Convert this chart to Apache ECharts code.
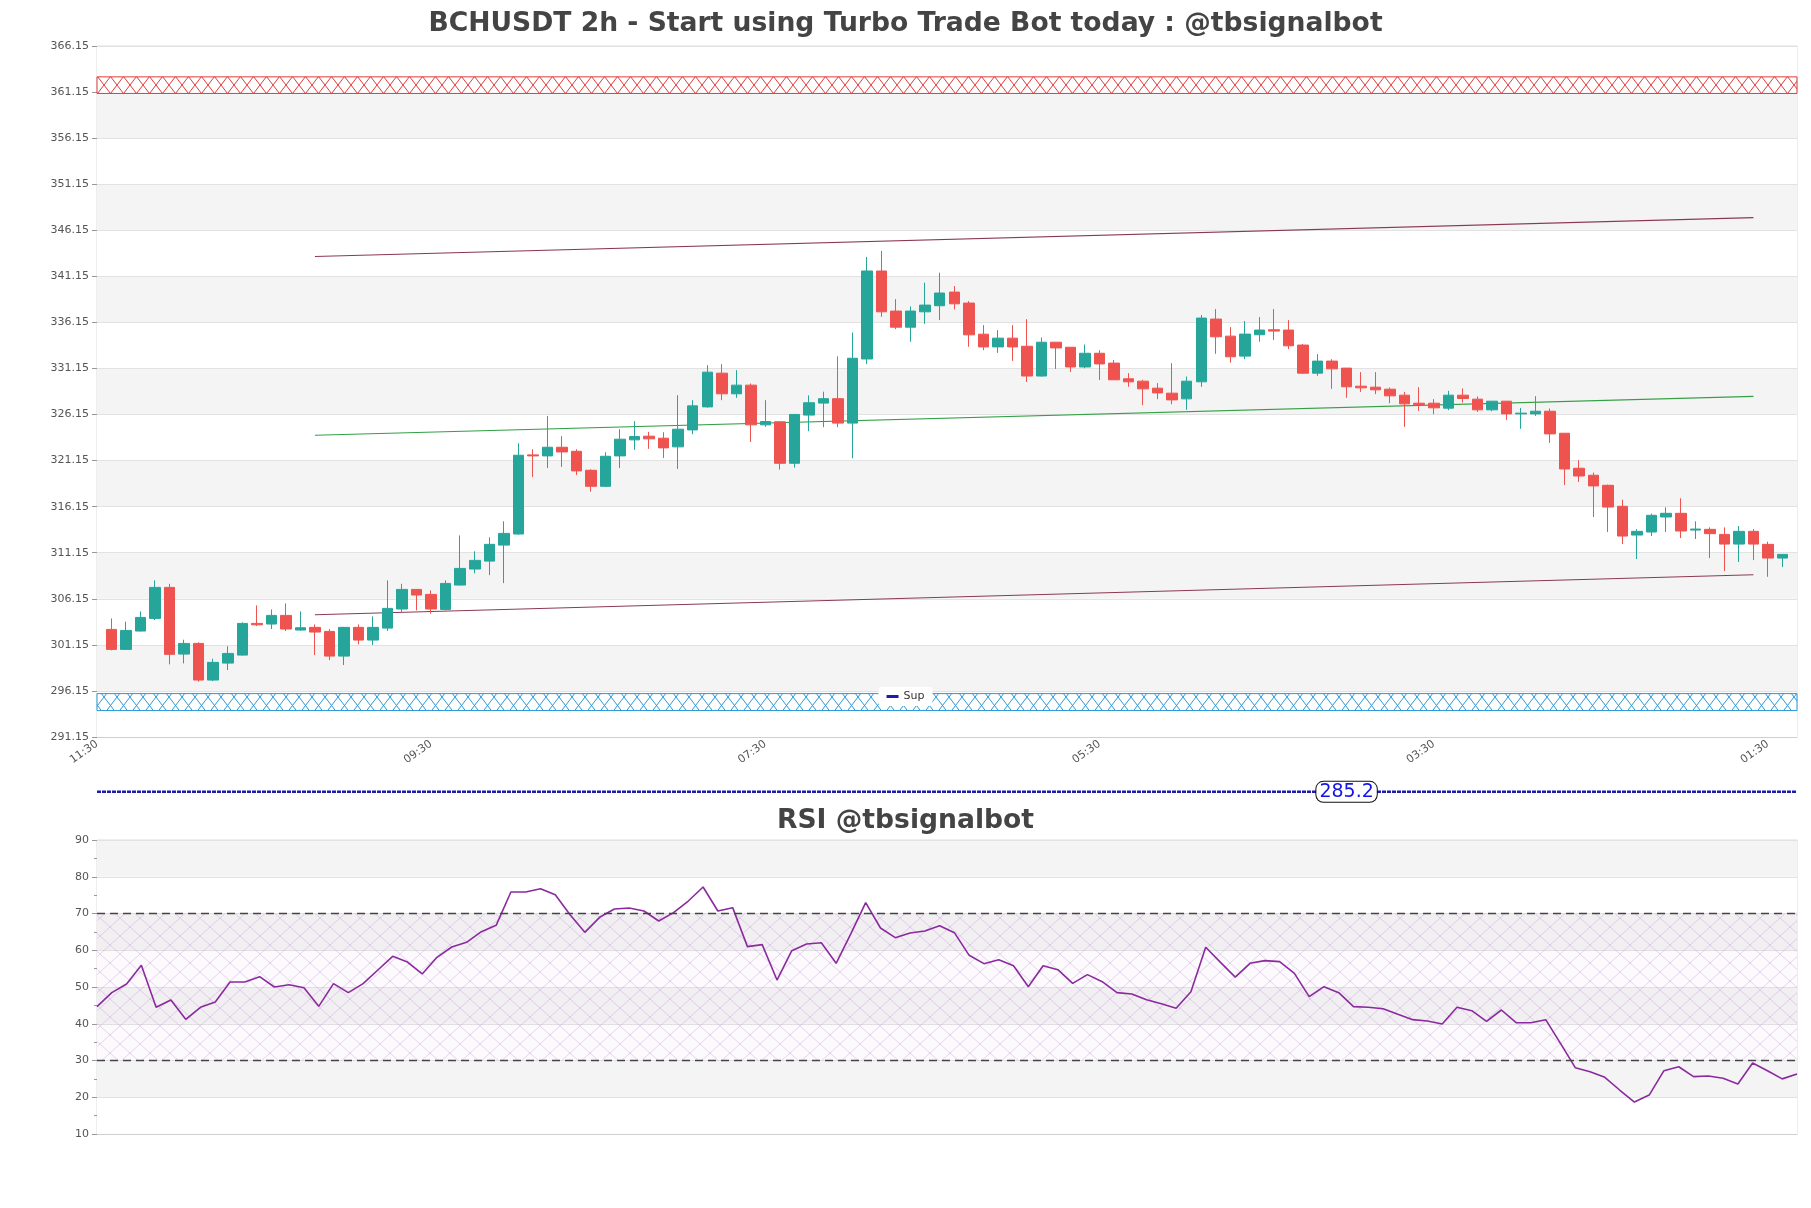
<!DOCTYPE html>
<html><head><meta charset="utf-8">
<script src="https://cdn.jsdelivr.net/npm/echarts@6/dist/echarts.min.js"></script>
<style>html,body{margin:0;padding:0;background:#fff}#c{width:1811px;height:1208px}</style>
</head><body><div id="c"></div>
<script>
// ---------- data ----------
const mainTitle = 'BCHUSDT 2h - Start using Turbo Trade Bot today : @tbsignalbot';
const rsiTitle = 'RSI @tbsignalbot';
const startHour = 11, startMinute = 30, stepHours = 2, slotCount = 118;

// candles occupy category slots 1..116
const opens  = [302.83,300.66,302.65,304.02,307.39,300.15,301.31,297.33,299.17,300.04,303.48,303.41,304.35,302.76,303.05,302.61,299.93,303.05,301.67,302.97,305.04,307.17,306.63,305.00,307.64,309.38,310.24,311.98,313.18,321.77,321.66,322.60,322.16,320.10,318.36,321.66,323.40,323.80,323.58,322.64,324.48,326.98,330.64,328.40,329.34,325.03,325.36,320.86,326.09,327.39,327.87,325.22,332.18,341.73,337.38,335.63,337.30,337.96,339.44,338.25,334.87,333.49,334.44,333.56,330.33,334.00,333.45,331.31,332.80,331.73,330.03,329.77,329.01,328.47,327.85,329.70,336.51,334.66,332.49,334.81,335.35,335.32,333.69,330.64,331.95,331.19,329.23,329.12,328.90,328.25,327.38,327.38,326.84,328.25,327.82,326.66,327.60,326.22,326.22,326.51,324.12,320.32,319.56,318.47,316.19,313.07,313.40,315.03,315.43,313.61,313.69,313.14,312.09,313.47,312.06,310.57];
const closes = [300.66,302.72,304.13,307.39,300.12,301.31,297.33,299.25,300.22,303.48,303.33,304.35,302.87,303.01,302.54,299.93,303.05,301.67,303.05,305.11,307.17,306.56,305.04,307.82,309.45,310.32,312.06,313.25,321.73,321.66,322.60,322.09,320.03,318.36,321.62,323.47,323.76,323.51,322.53,324.56,327.09,330.75,328.40,329.34,325.03,325.39,320.86,326.16,327.43,327.87,325.22,332.26,341.73,337.30,335.63,337.38,338.03,339.34,338.17,334.80,333.49,334.44,333.49,330.33,334.00,333.38,331.31,332.80,331.64,329.92,329.70,328.94,328.50,327.74,329.77,336.62,334.59,332.42,334.88,335.32,335.21,333.61,330.64,331.95,331.11,329.16,329.05,328.83,328.18,327.31,327.24,326.88,328.25,327.89,326.66,327.60,326.22,326.30,326.51,324.05,320.24,319.48,318.40,316.11,312.96,313.47,315.21,315.43,313.51,313.72,313.22,312.09,313.47,312.09,310.57,310.97];
const lows   = [300.55,300.60,302.60,303.84,299.03,299.14,297.15,297.22,298.42,300.00,303.19,302.87,302.65,302.70,300.04,299.50,298.96,301.20,301.13,302.65,304.60,304.89,304.53,304.88,307.60,308.90,308.72,307.85,313.10,319.37,320.35,320.46,319.59,317.78,318.29,320.35,322.31,322.42,321.44,320.24,324.01,326.90,327.71,327.96,323.18,324.81,320.17,320.39,324.34,324.78,324.78,321.40,331.64,336.76,335.42,334.04,336.00,336.40,337.56,333.50,333.13,332.84,331.97,329.68,330.26,331.10,330.77,331.17,329.90,329.90,329.16,327.16,327.82,327.27,326.66,329.16,332.74,331.77,332.16,334.05,334.23,333.25,330.57,330.35,328.94,327.96,328.61,328.36,327.38,324.81,326.55,326.19,326.62,327.45,326.44,326.51,325.57,324.59,326.00,323.07,318.50,318.83,315.03,313.40,312.09,310.46,312.96,313.40,312.74,312.64,310.57,309.16,310.14,310.35,308.54,309.59];
const highs  = [304.02,303.66,304.78,308.15,307.78,301.71,301.42,299.65,301.00,303.59,305.43,305.00,305.65,304.78,303.37,302.87,303.10,303.37,304.24,308.15,307.78,307.20,307.06,308.15,313.03,311.30,312.82,314.56,323.03,322.38,326.00,323.80,322.38,320.21,322.06,324.56,325.43,324.27,324.23,328.25,327.71,331.51,331.62,330.97,329.52,327.71,325.40,326.20,328.23,328.63,332.47,335.05,343.26,343.91,338.68,337.88,340.46,341.55,340.10,338.46,335.85,335.31,335.85,336.50,334.51,334.00,333.45,333.75,333.13,332.06,330.64,329.92,329.56,331.73,330.28,336.95,337.60,335.64,336.30,336.73,337.60,336.40,333.80,332.71,332.16,331.20,330.75,330.75,329.08,328.61,329.12,327.82,328.72,328.98,328.11,327.60,327.60,326.87,328.14,326.80,324.12,321.19,319.85,318.54,316.91,313.69,315.39,316.08,317.06,314.56,313.90,313.90,314.05,313.72,312.35,311.00];
const firstCandleSlot = 1;

const rsiValues = [44.65,48.46,50.82,55.9,44.47,46.46,41.2,44.47,45.92,51.36,51.36,52.81,50.0,50.63,49.82,44.74,50.91,48.46,50.91,54.63,58.35,56.8,53.54,58.07,60.88,62.15,65.06,66.78,75.85,75.85,76.76,75.12,69.68,64.88,68.96,71.22,71.5,70.68,67.96,70.23,73.4,77.2,70.68,71.59,60.98,61.52,51.9,59.89,61.7,62.06,56.44,64.5,72.95,66.05,63.42,64.69,65.24,66.69,64.78,58.62,56.35,57.44,55.8,50.09,55.8,54.72,51.0,53.36,51.45,48.46,48.1,46.55,45.46,44.2,48.7,60.8,56.7,52.7,56.44,57.17,56.9,53.72,47.37,50.09,48.46,44.65,44.47,44.1,42.56,41.11,40.75,39.93,44.47,43.56,40.66,43.74,40.29,40.29,41.11,34.67,28.05,26.96,25.42,21.97,18.7,20.6,27.23,28.3,25.6,25.8,25.15,23.6,29.3,27.23,25.0,26.33];

const priceMin = 291.15, priceMax = 366.15, priceStep = 5;
const rsiMin = 10, rsiMax = 90, rsiStep = 10;
const resistanceZone = [361.0, 362.8];
const supportZone = [294.02, 295.86];
const supLevel = 285.2;
const supLabelSlot = 86;
const upperTrend = [[15, 343.3], [114, 347.53]];
const midTrend   = [[15, 323.9], [114, 328.12]];
const lowerTrend = [[15, 304.42], [114, 308.76]];
const rsiBands = [70, 30];

// ---------- build ----------
const timeLabels = [];
for (let i = 0; i < slotCount; i++) {
  const h = (startHour + stepHours * i) % 24;
  timeLabels.push(String(h).padStart(2, '0') + ':' + String(startMinute).padStart(2, '0'));
}
const candleRows = opens.map((o, i) => [firstCandleSlot + i, o, closes[i], lows[i], highs[i]]);
const rsiLabels = timeLabels.slice(firstCandleSlot, firstCandleSlot + rsiValues.length);

function hatch(color, w, h, bg, lw) {
  const c = document.createElement('canvas');
  c.width = w; c.height = h;
  const ctx = c.getContext('2d');
  if (bg) { ctx.fillStyle = bg; ctx.fillRect(0, 0, w, h); }
  ctx.strokeStyle = color; ctx.lineWidth = lw;
  ctx.beginPath();
  ctx.moveTo(0, 0); ctx.lineTo(w, h);
  ctx.moveTo(w, 0); ctx.lineTo(0, h);
  ctx.stroke();
  return c;
}
const redHatch = hatch('#e03a3a', 13, 17, '#ffffff', 1);
const blueHatch = hatch('#2a98d8', 13, 17, '#ffffff', 1);
const rsiHatch = hatch('rgba(175,120,200,0.3)', 20, 18, 'rgba(200,170,220,0.06)', 1);

const font = 'DejaVu Sans';
const labelColor = '#555';

const chart = echarts.init(document.getElementById('c'), null, {renderer: 'canvas'});
chart.setOption({
  animation: false,
  backgroundColor: '#fff',
  textStyle: {fontFamily: font},
  title: [
    {text: mainTitle, left: 'center', top: 11, padding: 0,
     textStyle: {fontSize: 26.6, fontWeight: 'bold', color: '#444', fontFamily: font}},
    {text: rsiTitle, left: 'center', top: 808, padding: 0,
     textStyle: {fontSize: 26.6, fontWeight: 'bold', color: '#444', fontFamily: font}}
  ],
  legend: {
    data: [{name: 'Sup', icon: 'rect'}],
    left: 'center', top: 687, itemWidth: 12, itemHeight: 3, itemGap: 5,
    backgroundColor: '#fff', borderRadius: 3, padding: [4, 8],
    textStyle: {fontSize: 11, color: '#333', fontFamily: font}
  },
  grid: [
    {left: 97, right: 14, top: 46, height: 691, show: true, borderColor: '#dcdcdc', borderWidth: 1},
    {left: 97, right: 14, top: 840, height: 294, show: true, borderColor: '#dcdcdc', borderWidth: 1}
  ],
  xAxis: [
    {type: 'category', gridIndex: 0, data: timeLabels, boundaryGap: false,
     axisLine: {lineStyle: {color: '#cfcfcf'}}, axisTick: {show: false},
     axisLabel: {interval: 22, rotate: 35, fontSize: 11, color: labelColor, margin: 6},
     splitLine: {show: false}},
    {type: 'category', gridIndex: 1, data: rsiLabels, boundaryGap: false,
     axisLine: {lineStyle: {color: '#cfcfcf'}}, axisTick: {show: false},
     axisLabel: {show: false}, splitLine: {show: false}}
  ],
  yAxis: [
    {type: 'value', gridIndex: 0, min: priceMin, max: priceMax, interval: priceStep, scale: true,
     axisLine: {show: false}, axisTick: {show: true, length: 5, lineStyle: {color: '#999'}},
     axisLabel: {fontSize: 11, color: labelColor, margin: 8, formatter: v => v.toFixed(2)},
     splitLine: {lineStyle: {color: '#e2e2e2'}},
     splitArea: {show: true, areaStyle: {color: ['#ffffff', '#f4f4f4']}}},
    {type: 'value', gridIndex: 1, min: rsiMin, max: rsiMax, interval: rsiStep,
     axisLine: {show: false}, axisTick: {show: true, length: 5, lineStyle: {color: '#999'}},
     minorTick: {show: true, splitNumber: 2, length: 3, lineStyle: {color: '#999'}},
     axisLabel: {fontSize: 11, color: labelColor, margin: 8},
     splitLine: {lineStyle: {color: '#e2e2e2'}},
     splitArea: {show: true, areaStyle: {color: ['#ffffff', '#f4f4f4']}}}
  ],
  series: [
    {
      name: 'candles', type: 'candlestick', xAxisIndex: 0, yAxisIndex: 0,
      data: candleRows, encode: {x: 0, y: [1, 2, 3, 4]},
      barWidth: 11,
      itemStyle: {color: '#26a69a', color0: '#ef5350', borderColor: '#26a69a', borderColor0: '#ef5350', borderWidth: 1},
      markArea: {
        silent: true,
        data: [
          [{yAxis: resistanceZone[0], itemStyle: {color: {image: redHatch, repeat: 'repeat'}, borderColor: '#e03a3a', borderWidth: 1}},
           {yAxis: resistanceZone[1]}],
          [{yAxis: supportZone[0], itemStyle: {color: {image: blueHatch, repeat: 'repeat'}, borderColor: '#2a98d8', borderWidth: 1}},
           {yAxis: supportZone[1]}]
        ]
      },
      z: 4
    },
    {name: 'upper', type: 'line', xAxisIndex: 0, yAxisIndex: 0, data: upperTrend, symbol: 'none', silent: true,
     lineStyle: {color: '#8a3a50', width: 1.2}, z: 3},
    {name: 'mid', type: 'line', xAxisIndex: 0, yAxisIndex: 0, data: midTrend, symbol: 'none', silent: true,
     lineStyle: {color: '#35a048', width: 1.2}, z: 3},
    {name: 'lower', type: 'line', xAxisIndex: 0, yAxisIndex: 0, data: lowerTrend, symbol: 'none', silent: true,
     lineStyle: {color: '#8a3a50', width: 1.2}, z: 3},
    {
      name: 'Sup', type: 'line', xAxisIndex: 0, yAxisIndex: 0, clip: false, silent: true,
      symbol: 'none', showSymbol: true,
      data: [
        [0, supLevel],
        {value: [supLabelSlot, supLevel], symbol: 'circle', symbolSize: 1,
         label: {show: true, position: 'inside', formatter: () => supLevel.toFixed(1),
                 color: '#1414e6', fontSize: 19, fontFamily: font, backgroundColor: '#fff',
                 borderColor: '#111', borderWidth: 1, borderRadius: 7, padding: [1, 3, 0, 3]}},
        [slotCount - 1, supLevel]
      ],
      itemStyle: {color: '#1c1cb0'},
      lineStyle: {color: '#1c1cb0', width: 2.5, type: [4, 1]},
      z: 6
    },
    {
      name: 'RSI', type: 'line', xAxisIndex: 1, yAxisIndex: 1, data: rsiValues, symbol: 'none', silent: true,
      lineStyle: {color: '#8b2a9e', width: 1.6},
      markLine: {
        silent: true, symbol: ['none', 'none'], label: {show: false},
        lineStyle: {color: '#444', type: [8, 5], width: 1.3},
        data: rsiBands.map(v => ({yAxis: v}))
      },
      markArea: {
        silent: true,
        itemStyle: {color: {image: rsiHatch, repeat: 'repeat'}},
        data: [[{yAxis: rsiBands[1]}, {yAxis: rsiBands[0]}]]
      },
      z: 4
    }
  ]
});
</script>
</body></html>
